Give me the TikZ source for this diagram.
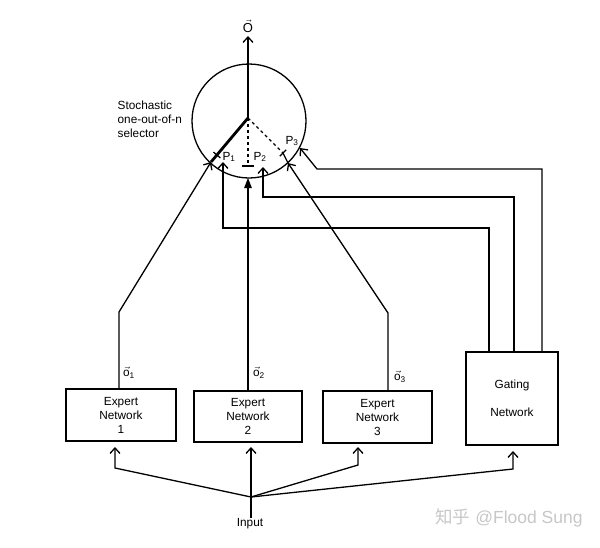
\documentclass[tikz,border=0pt]{standalone}
\usepackage{amsmath}
\usepackage{fontspec}
\setmainfont{Liberation Sans}
\newfontfamily\cjkfont{Noto Sans CJK SC}
\usetikzlibrary{arrows.meta,calc}
\begin{document}
\begin{tikzpicture}[x=1pt,y=-1pt,line width=1.3pt,
  boxnode/.style={draw,line width=1.3pt,inner sep=0pt,align=center,font=\fontsize{11.8}{14}\selectfont},
  lbl/.style={inner sep=0pt,font=\fontsize{11.8}{14}\selectfont},
  arr/.style={-{Straight Barb[length=5.5pt,width=10pt,line width=1.3pt]}},
  farr/.style={-{Triangle[length=10pt,width=7.5pt]}},
  tickmark/.style={line width=1.3pt}]
\useasboundingbox (0,0) rectangle (600,547);

% selector
\node[circle,draw,line width=1.3pt,minimum size=114pt,inner sep=0pt] (sel) at (249,121) {};
\coordinate (pv) at (248,118);
\node[lbl,anchor=south,font=\fontsize{13}{14}\selectfont] (out) at (248,33) {$\vec{\mbox{O}}$};
\draw[arr,shorten >=3pt] (pv) -- (out.south);
\node[lbl,anchor=north west,align=left] (stoch) at (117,100) {Stochastic\\one-out-of-n\\selector};

% boxes
\node[boxnode,minimum width=110pt,minimum height=52pt] (e1) at (121,415) {Expert\\Network\\1};
\node[boxnode,minimum width=108pt,minimum height=51pt] (e2) at (248,416.5) {Expert\\Network\\2};
\node[boxnode,minimum width=109pt,minimum height=52pt] (e3) at (377.5,417) {Expert\\Network\\3};
\node[boxnode,minimum width=92pt,minimum height=93pt] (g) at (512,398.5) {Gating\\[14pt]Network};

% switch positions and ticks
\coordinate (a1) at (211,162);
\coordinate (t1) at (216.9,155);
\coordinate (t2) at (248,166);
\coordinate (t3) at (283,153);
\coordinate (a3) at (288,163);
\draw[line width=2.8pt] (pv) -- (a1);
\draw[dashed] (pv) -- (t2);
\draw[dashed] (pv) -- (t3);
\draw[tickmark] ($(t1)!4.5pt!90:(pv)$) -- ($(t1)!4.5pt!-90:(pv)$);
\draw[tickmark] ($(t2)+(-6,0)$) -- ($(t2)+(6,0)$);
\draw[tickmark] ($(t3)!4.5pt!90:(pv)$) -- ($(t3)!4.5pt!-90:(pv)$);
\draw (a3) -- (t3);
\node[lbl] (p1) at (229,157) {P$_{\text{1}}$};
\node[lbl] (p2) at (260,157) {P$_{\text{2}}$};
\node[lbl] (p3) at (292,141) {P$_{\text{3}}$};

% expert outputs
\coordinate (b1) at (119,312);
\coordinate (b3) at (388,313);
\coordinate (a2) at (248,178);
\draw[arr] (e1.north -| b1) -- (b1) -- (a1);
\draw[farr] (e2.north) -- (a2);
\draw[arr] (e3.north -| b3) -- (b3) -- (a3);
\node[lbl] (o1) at (129,373) {$\vec{\mbox{o}}_{\text{1}}$};
\node[lbl] (o2) at (259,373) {$\vec{\mbox{o}}_{\text{2}}$};
\node[lbl] (o3) at (400,377) {$\vec{\mbox{o}}_{\text{3}}$};

% gating outputs
\coordinate (g1a) at (489,228);
\coordinate (g1b) at (223,228);
\coordinate (g1t) at (223,162);
\coordinate (g2a) at (514,197);
\coordinate (g2b) at (263,197);
\coordinate (g2t) at (263,167);
\coordinate (g3a) at (542,169);
\coordinate (g3b) at (317,169);
\coordinate (g3t) at (300,148);
\draw[arr] (g.north -| g1a) -- (g1a) -- (g1b) -- (g1t);
\draw[arr] (g.north -| g2a) -- (g2a) -- (g2b) -- (g2t);
\draw[arr] (g.north -| g3a) -- (g3a) -- (g3b) -- (g3t);

% input
\node[lbl] (inp) at (250,524) {Input};
\coordinate (j) at (251,497);
\coordinate (i1) at (115,468);
\coordinate (i3) at (358,465);
\coordinate (i4) at (513,469);
\draw (inp.north -| j) -- (j);
\draw[arr] (j) -- (i1) -- (115,447);
\draw[arr] (j) -- (251,447);
\draw[arr] (j) -- (i3) -- (358,447);
\draw[arr] (j) -- (i4) -- (513,451);

% watermark
\node[inner sep=0pt,text=black!22,font=\fontsize{17.5}{18}\selectfont] (wm) at (509,518) {{\cjkfont 知乎} @Flood Sung};
\end{tikzpicture}
\end{document}
